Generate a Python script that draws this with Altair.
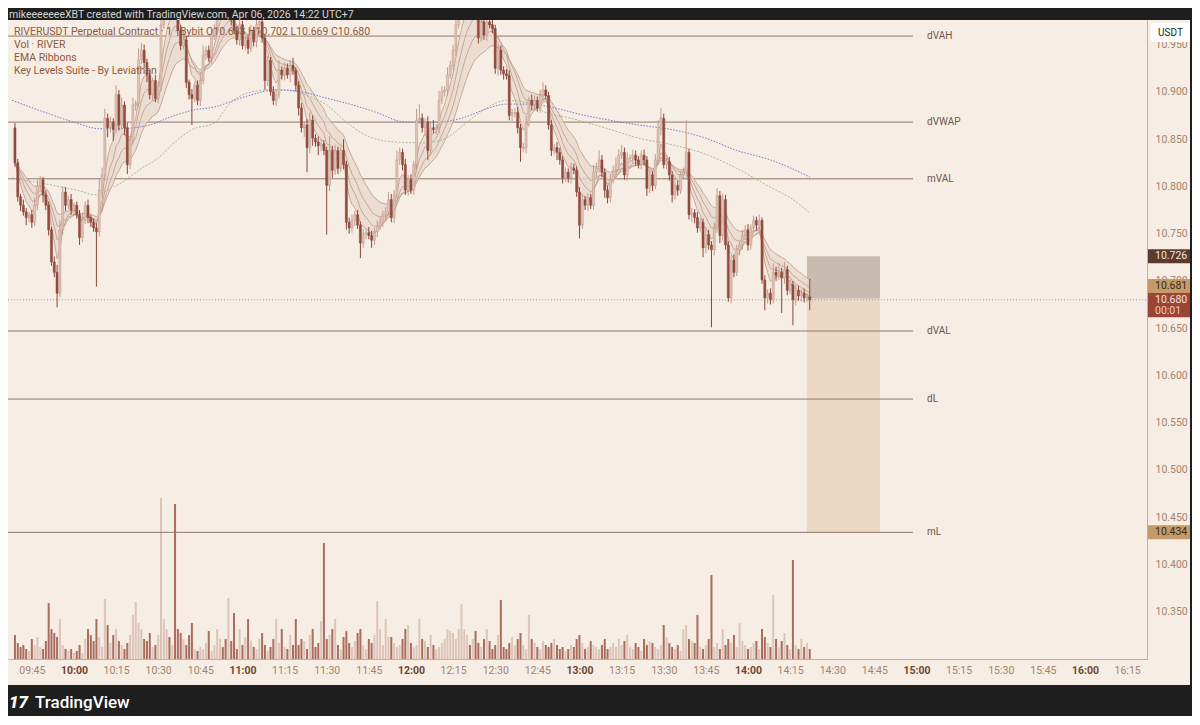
import altair as alt
import pandas as pd
import numpy as np

# ---------------- data ----------------
FIRST_MINUTE = 579          # 09:39, first 1-minute candle
FIRST_OPEN = 862            # thousandths above 10.000

# closes, in thousandths above 10.000 (one per minute)
closes = [
    825, 789, 780, 773, 767, 770, 762, 780, 801, 807, 791, 780, 754, 720, 709, 687, 754, 794, 780, 786,
    775, 780, 770, 746, 764, 780, 767, 762, 756, 752, 796, 812, 872, 862, 868, 860, 897, 865, 886, 862,
    823, 849, 886, 888, 934, 944, 931, 918, 897, 912, 893, 907, 971, 986, 1000, 995, 1005, 990, 965, 949,
    955, 910, 897, 893, 907, 891, 912, 939, 944, 936, 960, 967, 986, 1000, 995, 985, 990, 976, 965, 955,
    971, 949, 955, 946, 965, 953, 971, 974, 957, 912, 933, 900, 891, 897, 923, 918, 925, 918, 928, 923,
    907, 883, 862, 865, 841, 870, 851, 847, 843, 845, 838, 801, 838, 817, 838, 819, 838, 823, 762, 756,
    764, 770, 759, 740, 750, 751, 748, 743, 752, 758, 762, 770, 773, 786, 767, 791, 828, 836, 823, 796,
    807, 796, 823, 870, 872, 862, 868, 838, 862, 860, 862, 891, 900, 902, 918, 928, 944, 971, 986, 995,
    1000, 1005, 995, 1000, 985, 957, 974, 960, 974, 971, 967, 925, 944, 923, 919, 917, 875, 878, 878, 862,
    841, 841, 867, 891, 886, 891, 883, 896, 902, 896, 865, 838, 841, 836, 828, 809, 815, 809, 819, 817,
    794, 759, 786, 780, 788, 780, 815, 819, 828, 815, 796, 788, 807, 817, 823, 833, 836, 812, 830, 830,
    833, 828, 823, 833, 828, 798, 812, 801, 828, 860, 872, 823, 826, 812, 791, 801, 796, 812, 815, 836,
    770, 772, 767, 756, 762, 735, 749, 738, 733, 756, 790, 748, 786, 738, 682, 722, 709, 733, 738, 748,
    754, 738, 756, 764, 759, 764, 701, 682, 687, 680, 709, 706, 709, 703, 712, 690, 696, 680, 690, 684,
    687, 682, 683, 680,
]
wick_up = [
    5, 4, 3, 6, 4, 3, 5, 8, 6, 4, 3, 5, 4, 3, 6, 8, 10, 6, 5, 4,
    6, 3, 4, 5, 8, 4, 6, 3, 4, 5, 12, 8, 10, 5, 6, 4, 10, 5, 8, 4,
    5, 4, 8, 3, 12, 8, 6, 4, 5, 3, 6, 4, 15, 10, 8, 5, 6, 5, 4, 6,
    5, 4, 3, 6, 4, 5, 8, 10, 4, 5, 6, 5, 8, 6, 5, 4, 6, 5, 6, 4,
    5, 4, 3, 5, 6, 4, 5, 8, 6, 3, 5, 4, 6, 5, 10, 4, 6, 5, 5, 8,
    3, 4, 5, 4, 6, 8, 5, 4, 6, 5, 4, 4, 15, 5, 6, 4, 5, 12, 4, 5,
    6, 4, 5, 4, 5, 4, 6, 5, 4, 6, 5, 4, 5, 8, 6, 5, 10, 5, 4, 6,
    5, 6, 4, 12, 15, 5, 4, 6, 5, 8, 4, 10, 6, 4, 8, 5, 6, 10, 8, 6,
    5, 6, 5, 4, 6, 5, 4, 6, 5, 4, 5, 4, 6, 5, 4, 5, 6, 4, 5, 6,
    4, 5, 8, 4, 6, 5, 4, 6, 8, 5, 4, 5, 4, 6, 5, 4, 5, 4, 6, 5,
    4, 5, 6, 4, 5, 4, 8, 6, 10, 5, 4, 5, 6, 5, 8, 6, 8, 5, 6, 4,
    6, 5, 4, 5, 6, 4, 5, 4, 6, 10, 11, 5, 4, 5, 4, 6, 5, 4, 5, 34,
    4, 5, 4, 6, 5, 4, 8, 5, 4, 6, 8, 5, 6, 5, 4, 5, 6, 5, 4, 6,
    5, 6, 4, 5, 4, 6, 3, 5, 4, 5, 10, 6, 10, 5, 8, 4, 5, 4, 6, 5,
    4, 5, 4, 19,
]
wick_dn = [
    4, 5, 6, 4, 8, 5, 6, 4, 5, 6, 8, 5, 6, 4, 5, 15, 4, 5, 6, 4,
    5, 6, 4, 8, 5, 4, 6, 5, 4, 58, 5, 8, 6, 10, 5, 12, 4, 6, 5, 8,
    10, 5, 4, 6, 4, 5, 6, 8, 5, 6, 4, 5, 6, 4, 5, 6, 4, 5, 6, 5,
    4, 6, 5, 28, 4, 5, 6, 4, 5, 4, 6, 5, 4, 5, 6, 4, 5, 6, 4, 5,
    6, 4, 5, 6, 4, 5, 6, 4, 5, 10, 6, 4, 5, 6, 4, 5, 6, 4, 8, 5,
    6, 8, 5, 10, 26, 6, 8, 5, 10, 6, 5, 52, 6, 8, 5, 6, 4, 5, 8, 6,
    5, 6, 4, 16, 5, 6, 4, 8, 5, 6, 4, 5, 6, 4, 5, 6, 4, 5, 6, 5,
    6, 4, 5, 6, 4, 5, 6, 10, 5, 4, 5, 6, 4, 5, 6, 4, 5, 6, 4, 5,
    4, 5, 6, 4, 5, 6, 4, 5, 6, 4, 5, 6, 8, 5, 6, 4, 5, 6, 5, 6,
    15, 5, 6, 4, 5, 6, 4, 5, 6, 4, 5, 6, 4, 8, 5, 6, 4, 5, 6, 4,
    5, 14, 4, 5, 6, 4, 5, 6, 4, 5, 8, 6, 5, 4, 5, 6, 4, 5, 6, 4,
    5, 6, 4, 5, 6, 8, 5, 6, 4, 5, 6, 4, 5, 6, 8, 5, 6, 4, 5, 6,
    5, 8, 6, 5, 4, 10, 6, 5, 82, 6, 5, 8, 6, 5, 4, 6, 5, 4, 6, 5,
    4, 6, 5, 4, 6, 5, 4, 13, 6, 5, 4, 6, 5, 37, 6, 5, 4, 27, 6, 5,
    6, 5, 4, 11,
]
volumes = [
    24, 16, 12, 14, 10, 8, 20, 14, 22, 12, 10, 18, 56, 30, 26, 22, 40, 14, 10, 8,
    10, 6, 8, 14, 6, 20, 30, 24, 18, 40, 22, 12, 60, 34, 16, 24, 30, 18, 14, 10,
    16, 24, 44, 57, 36, 30, 20, 18, 26, 12, 14, 24, 161, 40, 30, 22, 14, 155, 30, 26,
    20, 14, 24, 36, 10, 8, 12, 10, 16, 28, 8, 14, 30, 20, 12, 20, 61, 18, 46, 10,
    30, 14, 22, 40, 18, 12, 10, 20, 26, 14, 8, 12, 20, 40, 16, 30, 12, 10, 24, 14,
    40, 14, 20, 18, 10, 24, 30, 12, 16, 38, 116, 20, 24, 30, 40, 14, 10, 22, 28, 16,
    12, 18, 26, 30, 14, 10, 20, 16, 24, 58, 30, 14, 40, 22, 22, 16, 12, 14, 20, 30,
    34, 16, 12, 14, 40, 20, 18, 12, 24, 14, 10, 12, 16, 20, 30, 28, 26, 20, 30, 55,
    30, 24, 14, 20, 28, 16, 12, 20, 30, 18, 10, 14, 24, 59, 12, 10, 16, 22, 14, 20,
    26, 14, 10, 44, 20, 16, 12, 10, 18, 14, 12, 16, 20, 14, 10, 12, 8, 10, 14, 12,
    20, 24, 16, 10, 12, 18, 14, 12, 10, 14, 20, 10, 12, 16, 12, 20, 14, 18, 24, 12,
    10, 16, 12, 8, 20, 14, 18, 16, 12, 10, 14, 34, 22, 16, 12, 10, 14, 8, 30, 34,
    20, 18, 16, 44, 12, 10, 14, 20, 84, 12, 16, 10, 30, 14, 20, 16, 24, 12, 36, 18,
    14, 10, 12, 16, 18, 10, 30, 22, 16, 12, 64, 20, 12, 18, 26, 14, 10, 99, 14, 10,
    20, 12, 16, 10,
]

# long-period lines (blue dotted and green), read as (minute of day, price)
blue_t = [578, 589, 601, 609, 616, 627, 634, 643, 650, 660, 672, 681, 689, 697, 707,
          718, 730, 739, 746, 754, 763, 771, 782, 789, 801, 813, 824, 836, 848, 862]
blue_p = [10.891, 10.879, 10.867, 10.861, 10.861, 10.865, 10.873, 10.881, 10.884, 10.894,
          10.902, 10.900, 10.894, 10.888, 10.879, 10.868, 10.868, 10.873, 10.881, 10.887,
          10.887, 10.883, 10.875, 10.871, 10.865, 10.860, 10.852, 10.838, 10.828, 10.810]
green_t = [578, 589, 601, 608, 613, 617, 624, 630, 636, 642, 650, 655, 662, 669, 676, 683,
           690, 697, 704, 714, 726, 733, 740, 747, 754, 761, 768, 777, 789, 801, 813, 824,
           836, 848, 855, 862]
green_p = [10.809, 10.803, 10.796, 10.791, 10.798, 10.804, 10.819, 10.830, 10.847, 10.860,
           10.867, 10.886, 10.899, 10.902, 10.902, 10.896, 10.886, 10.868, 10.854, 10.847,
           10.846, 10.852, 10.868, 10.883, 10.891, 10.889, 10.878, 10.872, 10.862, 10.851,
           10.844, 10.835, 10.819, 10.799, 10.788, 10.772]

ema_periods = [5, 9, 14, 21]

level_names = ["dVAH", "dVWAP", "mVAL", "dVAL", "dL", "mL"]
level_prices = [10.959, 10.868, 10.808, 10.647, 10.575, 10.434]

last_price = 10.680
box_start, box_end = 861, 887          # 14:21 -> 14:47
box_entry, box_stop, box_target = 10.681, 10.726, 10.434

tag_texts = ["10.726", "10.681", "10.680", "10.434"]
tag_prices = [10.726, 10.681, 10.680, 10.434]

time_ticks = list(range(585, 976, 15))
price_ticks = [10.35, 10.40, 10.45, 10.50, 10.55, 10.60, 10.65, 10.70, 10.75, 10.80,
               10.85, 10.90, 10.95]

legend_lines = [
    "RIVERUSDT Perpetual Contract · 1 · Bybit  O10.683  H10.702  L10.669  C10.680",
    "Vol · RIVER",
    "EMA Ribbons",
    "Key Levels Suite - By Leviathan",
]
header_text = "mikeeeeeeeXBT created with TradingView.com, Apr 06, 2026 14:22 UTC+7"

# ---------------- styles ----------------
BG = "#f6ede4"
DARK = "#1e1e1e"
UP_FILL, UP_LINE = "#dcc3b6", "#c29b8b"
DN_FILL, DN_LINE = "#934b3f", "#8a463b"
VOL_UP, VOL_DN = "#dcc5b8", "#ab6c5e"
FONT = "Roboto"
W, H = 1139, 639

# ---------------- tables ----------------
n = len(closes)
assert len(wick_up) == n and len(wick_dn) == n and len(volumes) == n
c = np.array(closes) / 1000 + 10
o = np.r_[FIRST_OPEN, closes[:-1]] / 1000 + 10
up = c >= o
btop = np.maximum(o, c)
bbot = np.minimum(o, c)
bbot = np.where(btop - bbot < 0.0007, btop - 0.0007, bbot)
df = pd.DataFrame({
    "t": FIRST_MINUTE + np.arange(n),
    "btop": btop, "bbot": bbot,
    "hi": np.maximum(o, c) + np.array(wick_up) / 1000,
    "lo": np.minimum(o, c) - np.array(wick_dn) / 1000,
    "fill": np.where(up, UP_FILL, DN_FILL),
    "line": np.where(up, UP_LINE, DN_LINE),
    "vcol": np.where(up, VOL_UP, VOL_DN),
    "vol": volumes,
})
emas = {p: pd.Series(c).ewm(span=p, adjust=False).mean().values for p in ema_periods}
ema_stack = np.vstack([emas[p] for p in ema_periods])
rib = pd.DataFrame({"t": df["t"], "top": ema_stack.max(axis=0), "bot": ema_stack.min(axis=0)})
ema_long = pd.concat([pd.DataFrame({"t": df["t"], "v": emas[p], "k": str(p)}) for p in ema_periods])
blue = pd.DataFrame({"t": blue_t, "v": blue_p})
green = pd.DataFrame({"t": green_t, "v": green_p})
levels = pd.DataFrame({"name": level_names, "p": level_prices})
box = pd.DataFrame({"t0": [box_start, box_start], "t1": [box_end, box_end],
                    "a": [box_stop, box_entry], "b": [box_entry, box_target],
                    "col": ["#c9bbb0", "#ebd8c4"]})

# tag layout (price-unit offsets of each box and its text)
tag_fill = ["#5b3b30", "#c49a66", "#9b4537", "#c49a66"]
tag_tcol = ["#f3e6dc", "#3a2a1c", "#f6e4dc", "#3a2a1c"]
tag_top = [0.0074, 0.0209, 0.0071, 0.0074]
tag_bot = [-0.0074, 0.0062, -0.0185, -0.0074]
tag_mid = [0.0, 0.0135, 0.0, 0.0]
tags = pd.DataFrame({
    "txt": tag_texts,
    "top": [p + d for p, d in zip(tag_prices, tag_top)],
    "bot": [p + d for p, d in zip(tag_prices, tag_bot)],
    "mid": [p + d for p, d in zip(tag_prices, tag_mid)],
    "fill": tag_fill, "tcol": tag_tcol,
})

# ---------------- scales / axes ----------------
xs = alt.Scale(domain=[578.3, 980.3], nice=False, zero=False)
ys = alt.Scale(domain=[10.300, 10.976], nice=False, zero=False)
hour_test = "datum.value % 60 === 0"
xaxis = alt.Axis(
    values=time_ticks, title=None, grid=False, ticks=False, domainColor="#cdac93",
    labelExpr="(floor(datum.value/60) < 10 ? '0' : '') + floor(datum.value/60) + ':' + "
              "(datum.value % 60 < 10 ? '0' : '') + (datum.value % 60)",
    labelFontSize=10.5, labelPadding=6, labelFont=FONT, labelOverlap=False,
    labelColor={"condition": {"test": hour_test, "value": "#6f4630"}, "value": "#a3836e"},
    labelFontWeight={"condition": {"test": hour_test, "value": "bold"}, "value": "normal"},
)
yaxis = alt.Axis(
    orient="right", values=price_ticks, format=".3f", title=None, grid=False, ticks=False,
    domainColor="#cdac93", labelColor="#a3836e", labelFontSize=10.5, labelPadding=8,
    labelFont=FONT, labelOverlap=False, labelFlush=False,
)


def X(f="t"):
    return alt.X(f"{f}:Q", scale=xs, axis=xaxis)


def Y(f):
    return alt.Y(f"{f}:Q", scale=ys, axis=yaxis)


base = alt.Chart(df)

target_box = alt.Chart(box).mark_rect(clip=True).encode(
    x=X("t0"), x2="t1", y=Y("a"), y2="b", color=alt.Color("col:N", scale=None))

level_rules = alt.Chart(levels).mark_rule(color="#8f7769", strokeWidth=1).encode(
    y=Y("p"), x=alt.value(0), x2=alt.value(905))
level_text = alt.Chart(levels).mark_text(align="left", baseline="middle", fontSize=10,
                                         font=FONT, color="#6f5548").encode(
    y=Y("p"), x=alt.value(919), text="name:N")

last_rule = alt.Chart(pd.DataFrame({"p": [last_price]})).mark_rule(
    color="#b09888", strokeDash=[1, 2], strokeWidth=1).encode(
    y=Y("p"), x=alt.value(0), x2=alt.value(W))

ribbon = alt.Chart(rib).mark_area(color="#ead8cd", opacity=0.8, clip=True).encode(
    x=X(), y=Y("top"), y2="bot")
ribbon_lines = alt.Chart(ema_long).mark_line(color="#bc9888", strokeWidth=0.8, clip=True).encode(
    x=X(), y=Y("v"), detail="k:N")

green_line = alt.Chart(green).mark_line(color="#9fb48c", strokeWidth=0.9, strokeDash=[2, 1.5],
                                        clip=True, interpolate="monotone").encode(x=X(), y=Y("v"))
blue_line = alt.Chart(blue).mark_line(color="#7478cf", strokeWidth=1, strokeDash=[1.5, 1.5],
                                      clip=True, interpolate="monotone").encode(x=X(), y=Y("v"))

wicks = base.mark_rule(strokeWidth=1, clip=True).encode(
    x=X(), y=Y("hi"), y2="lo", color=alt.Color("line:N", scale=None))
bodies = base.mark_bar(size=2.1, clip=True, strokeWidth=0.5).encode(
    x=X(), y=Y("btop"), y2="bbot",
    color=alt.Color("fill:N", scale=None), stroke=alt.Stroke("line:N", scale=None))

tag_rects = alt.Chart(tags).mark_rect().encode(
    y=Y("top"), y2="bot", x=alt.value(W + 1), x2=alt.value(W + 43),
    color=alt.Color("fill:N", scale=None))
tag_labels = alt.Chart(tags).mark_text(align="left", baseline="middle", fontSize=10.5, font=FONT).encode(
    y=Y("mid"), x=alt.value(W + 8), text="txt:N", color=alt.Color("tcol:N", scale=None))
timer = alt.Chart(pd.DataFrame({"p": [last_price - 0.0118]})).mark_text(
    align="left", baseline="middle", fontSize=10.5, font=FONT, color="#e9c9bf", text="00:01").encode(
    y=Y("p"), x=alt.value(W + 8))

one = pd.DataFrame({"k": [0]})
header_bar = alt.Chart(one).mark_rect(color=DARK).encode(
    x=alt.value(0), x2=alt.value(1184), y=alt.value(-12), y2=alt.value(0))
footer_bar = alt.Chart(one).mark_rect(color=DARK).encode(
    x=alt.value(0), x2=alt.value(1184), y=alt.value(665), y2=alt.value(700))
side_bar = alt.Chart(one).mark_rect(color=DARK).encode(
    x=alt.value(1182), x2=alt.value(1184), y=alt.value(-12), y2=alt.value(700))
header = alt.Chart(one).mark_text(align="left", baseline="middle", fontSize=10.5, font=FONT,
                                  color="#d4d4d4", text=header_text).encode(
    x=alt.value(1), y=alt.value(-5.5))
logo = alt.Chart(one).mark_text(align="left", baseline="middle", fontSize=17, font=FONT,
                                fontWeight=900, fontStyle="italic", color="#ffffff", text="17").encode(
    x=alt.value(1), y=alt.value(683))
logo_text = alt.Chart(one).mark_text(align="left", baseline="middle", fontSize=17, font=FONT,
                                     fontWeight=500, color="#ffffff", text="TradingView").encode(
    x=alt.value(27), y=alt.value(683))
usdt_box = alt.Chart(one).mark_rect(color="#ffffff", cornerRadius=2).encode(
    x=alt.value(W + 4), x2=alt.value(W + 43), y=alt.value(3), y2=alt.value(22))
usdt = alt.Chart(one).mark_text(align="center", baseline="middle", fontSize=10, font=FONT,
                                color="#222222", text="USDT").encode(
    x=alt.value(W + 23.5), y=alt.value(12.5))

legend = alt.Chart(pd.DataFrame({"txt": legend_lines, "row": list(range(len(legend_lines)))})).mark_text(
    align="left", baseline="middle", fontSize=10.5, font=FONT, color="#8e5a3a").encode(
    x=alt.value(6), y=alt.Y("row:Q", scale=alt.Scale(domain=[0, 1], range=[12, 25]), axis=None),
    text="txt:N")

volume = base.mark_bar(size=2, clip=True).encode(
    x=X(), y=alt.Y("vol:Q", scale=alt.Scale(domain=[0, H], nice=False), axis=None),
    color=alt.Color("vcol:N", scale=None))

price = alt.layer(
    target_box, level_rules, level_text, last_rule, ribbon, ribbon_lines,
    green_line, blue_line, wicks, bodies, tag_rects, tag_labels, timer,
)
overlay = alt.layer(header_bar, footer_bar, side_bar, header, logo, logo_text,
                    usdt_box, usdt, legend)

chart = alt.layer(volume, price, overlay).resolve_scale(y="independent").properties(
    width=W, height=H,
    autosize=alt.AutoSizeParams(type="none"),
    padding={"left": 0, "top": 12, "right": 45, "bottom": 57},
    background=BG,
).configure_view(fill=BG, stroke=None)

chart.save("out.html", embed_options={"renderer": "svg", "actions": False})
